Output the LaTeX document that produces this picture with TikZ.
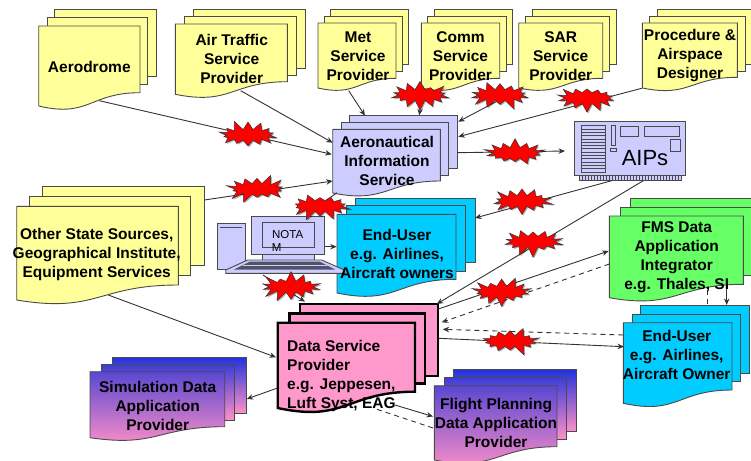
\documentclass[tikz,border=0pt]{standalone}
\usepackage{fontspec}
\setmainfont{Liberation Sans}
\usetikzlibrary{arrows.meta,shapes.symbols,shadows}
\definecolor{edge}{HTML}{4A4A4A}
\definecolor{yel}{HTML}{FFFF99}
\definecolor{lav}{HTML}{CCCCFF}
\definecolor{cya}{HTML}{00CCFF}
\definecolor{gre}{HTML}{66FF66}
\definecolor{pnk}{HTML}{FF99CC}
\definecolor{gradend}{HTML}{FF90C8}
\definecolor{gradA}{HTML}{2233DD}
\definecolor{gradB}{HTML}{3C3DD8}
\definecolor{gradC}{HTML}{5A48D0}
\definecolor{link}{HTML}{333333}
\tikzset{
  ypg/.style={draw=edge,line width=.9pt,fill=yel},
  lpg/.style={draw=edge,line width=.9pt,fill=lav},
  cpg/.style={draw=edge,line width=.9pt,fill=cya},
  gpg/.style={draw=edge,line width=.9pt,fill=gre},
  ppg/.style={draw=black,line width=2.4pt,fill=pnk,miter limit=4},
  spgA/.style={draw=edge,line width=.9pt,top color=gradA,bottom color=gradend},
  spgB/.style={draw=edge,line width=.9pt,top color=gradB,bottom color=gradend},
  spgC/.style={draw=edge,line width=.9pt,top color=gradC,bottom color=gradend},
  arrow link/.style={draw=link,line width=.9pt,-{Stealth[length=6.5pt,width=5.5pt]}},
  plain link/.style={draw=link,line width=.9pt},
  dash link/.style={draw=link,line width=.9pt,dash pattern=on 5pt off 4pt,-{Stealth[length=6.5pt,width=5.5pt]}},
  label/.style={font=\fontsize{15.5}{19}\bfseries\selectfont,align=center,inner sep=0pt,text=black},
  burst/.style={starburst,starburst points=14,starburst point height=10pt,draw=black!80,line width=.5pt,fill=red,
    minimum width=64pt,minimum height=31pt,inner sep=0pt,
    drop shadow={shadow xshift=1.2pt,shadow yshift=-1.2pt,fill=black,opacity=.3}},
}
\newcommand\docfront[6]{%
  \pgfmathsetmacro\xmid{(#2+#3)/2}%
  \pgfmathsetmacro\yctl{#5+1.9*(#6-#5)}%
  \draw[#1] (#2,#4) -- (#3,#4) -- (#3,#5) .. controls (\xmid,#5) and (\xmid,\yctl) .. (#2,#6) -- cycle;}
\begin{document}
\begin{tikzpicture}[x=1pt,y=-1pt]
\useasboundingbox (0,0) rectangle (751,460);
% --- document stacks
\draw[ypg] (54.7,9) rectangle (156,76);
\draw[ypg] (47,17.3) rectangle (147.3,84);
\docfront{ypg}{38.7}{140}{26}{92.7}{106}
\draw[ypg] (193,9) rectangle (305,68.3);
\draw[ypg] (184.3,16) rectangle (296,75.3);
\docfront{ypg}{175.3}{287.3}{24}{81.7}{94.3}
\draw[ypg] (330.3,9) rectangle (408.7,64);
\draw[ypg] (324.3,16) rectangle (402.3,71);
\docfront{ypg}{318}{396}{23}{78.3}{88}
\draw[ypg] (434,9) rectangle (512.3,64);
\draw[ypg] (427.7,16) rectangle (506,71);
\docfront{ypg}{421.3}{499.7}{23}{78.3}{88}
\draw[ypg] (532,9) rectangle (616.7,64);
\draw[ypg] (525.3,16) rectangle (609.7,71);
\docfront{ypg}{518.7}{602.7}{23}{78.3}{88}
\draw[ypg] (657,9) rectangle (760,64);
\draw[ypg] (649.7,16) rectangle (745,71);
\docfront{ypg}{642.3}{737.3}{23}{77.3}{88}
\draw[lpg] (349.3,115.7) rectangle (457.3,168.3);
\draw[lpg] (341.3,122.3) rectangle (448.3,175);
\docfront{lpg}{332.7}{440.3}{129.3}{181}{193}
\draw[ypg] (42.3,186.3) rectangle (204.3,265);
\draw[ypg] (29.7,196.3) rectangle (190.7,275.7);
\docfront{ypg}{16.7}{178.3}{206.3}{285}{300}
\draw[cpg] (355.7,198.3) rectangle (475,262.7);
\draw[cpg] (346.7,205.7) rectangle (465,271.7);
\docfront{cpg}{337}{456}{214.3}{279.3}{293}
\draw[gpg] (630.3,198.3) rectangle (760,266);
\draw[gpg] (620,207.3) rectangle (755,275.7);
\docfront{gpg}{609.3}{743.3}{216}{284.3}{297.7}
\draw[cpg] (640.7,305.7) rectangle (749.7,373);
\draw[cpg] (632.3,314) rectangle (740.7,381.7);
\docfront{cpg}{623.3}{732}{322.7}{390}{403.3}
\draw[ppg] (300,304) rectangle (437.7,375.7);
\draw[ppg] (289.3,313.3) rectangle (425,383.3);
\docfront{ppg}{277.7}{415}{322.7}{391.7}{408}
\draw[spgA] (112,357.3) rectangle (246,413.3);
\draw[spgB] (101,364.7) rectangle (234.7,420);
\docfront{spgC}{90}{224.7}{371.7}{426.7}{437.7}
\draw[spgA] (453.7,369.7) rectangle (576.7,431.7);
\draw[spgB] (444,377.3) rectangle (566.7,439.3);
\docfront{spgC}{434.3}{557}{385.7}{446.7}{460}
% --- AIPs circuit board
\draw[lpg] (574,121.7) rectangle (685.7,175.7);
\draw[lpg] (579.3,175.7) rectangle (681,180.7);
\foreach \gx in {582,585,...,680} \draw[edge,line width=.5pt] (\gx,175.7) -- (\gx,180.7);
\draw[lpg,line width=.7pt] (581.3,125.7) rectangle (605,172.3);
\foreach \gy in {129,132.3,...,171} \draw[edge,line width=.7pt] (581.3,\gy) -- (605,\gy);
\draw[lpg,line width=.7pt] (611.7,125.7) rectangle (615.7,145);
\draw[lpg,line width=.7pt] (610.7,148.3) rectangle (616.7,151.7);
\draw[lpg,line width=.7pt] (620.3,126) rectangle (638.7,136.7);
\draw[lpg,line width=.7pt] (644.3,126) rectangle (679,136.7);
\draw[lpg,line width=.7pt] (670,139.3) rectangle (680,151.7);
% --- NOTAM computer
\draw[lpg] (217,223) rectangle (245,269.3);
\draw[edge,line width=1.2pt] (220.3,227.3) -- (241.7,227.3);
\draw[lpg] (251.7,216) rectangle (324.3,254.3);
\draw[lpg] (262.3,222.3) rectangle (314.3,247.7);
\draw[lpg] (262.3,254.3) rectangle (314.3,260);
\draw[lpg] (247.7,260) -- (321.7,260) -- (344.3,270) -- (344.3,273.3) -- (225.7,273.3) -- (225.7,270) -- cycle;
\fill[black!60!lav] (250,261.5) -- (319.5,261.5) -- (335,269.5) -- (234,269.5) -- cycle;
\draw[lav,line width=.6pt] (243,265.5) -- (327,265.5);
% --- anchor points of the connectors
\coordinate (aeroOut) at (99.3,100.7);   \coordinate (aisA) at (331.7,154.3);
\coordinate (atsOut) at (240.7,90.7);    \coordinate (aisB) at (332.7,142.7);
\coordinate (metOut) at (348.7,90.7);    \coordinate (aisC) at (365,115.7);
\coordinate (commOut) at (423,86);       \coordinate (aisD) at (419.3,115.3);
\coordinate (sarOut) at (522,88);        \coordinate (aisE) at (458.3,121.7);
\coordinate (procOut) at (641.7,88.3);   \coordinate (aisF) at (458.3,136.7);
\coordinate (aisOut) at (457.3,152.7);   \coordinate (aipIn) at (565,151);
\coordinate (aipOutA) at (611.7,180.7);  \coordinate (euA) at (475,218);
\coordinate (aipOutB) at (643.3,180.7);  \coordinate (dsA) at (436.7,304);
\coordinate (othOutA) at (204.3,200);    \coordinate (aisG) at (332.7,181);
\coordinate (othOutB) at (108.3,295);    \coordinate (dsB) at (276,357.3);
\coordinate (aisOutB) at (337,192.7);    \coordinate (pcA) at (318,206);
\coordinate (pcOutA) at (325,246.7);     \coordinate (euB) at (336.7,246.7);
\coordinate (pcOutB) at (263,275);       \coordinate (dsC) at (305,301.7);
\coordinate (dsOutA) at (438.3,309);     \coordinate (fmsIn) at (608.7,251);
\coordinate (fmsOutA) at (609.3,264);    \coordinate (dsD) at (441.7,322.3);
\coordinate (dsOutB) at (438.3,338.3);   \coordinate (eutA) at (624,346.7);
\coordinate (eutOut) at (623.3,335);     \coordinate (dsE) at (442.7,329.3);
\coordinate (fmsOutB) at (726.7,284.3);  \coordinate (eutB) at (726.7,305);
\coordinate (fmsOutC) at (707.3,290);    \coordinate (eutC) at (707.3,305.7);
\coordinate (dsOutC) at (276.7,388.3);   \coordinate (simIn) at (246.7,399);
\coordinate (dsOutD) at (395,405);       \coordinate (fltIn) at (433,416.5);
\coordinate (fltOut) at (433,428);       \coordinate (dsF) at (373,408);
% --- connectors
\draw[arrow link] (aeroOut) -- (aisA);
\draw[arrow link] (atsOut) -- (aisB);
\draw[arrow link] (metOut) -- (aisC);
\draw[arrow link] (commOut) -- (aisD);
\draw[arrow link] (sarOut) -- (aisE);
\draw[arrow link] (procOut) -- (aisF);
\draw[arrow link] (aisOut) -- (aipIn);
\draw[arrow link] (aipOutA) -- (euA);
\draw[arrow link] (aipOutB) -- (dsA);
\draw[arrow link] (othOutA) -- (aisG);
\draw[arrow link] (othOutB) -- (dsB);
\draw[plain link] (aisOutB) -- (pcA);
\draw[arrow link] (pcOutA) -- (euB);
\draw[arrow link] (pcOutB) -- (dsC);
\draw[arrow link] (dsOutA) -- (fmsIn);
\draw[dash link] (fmsOutA) -- (dsD);
\draw[arrow link] (dsOutB) -- (eutA);
\draw[dash link] (eutOut) -- (dsE);
\draw[arrow link] (fmsOutB) -- (eutB);
\draw[plain link,dash pattern=on 5pt off 4pt] (fmsOutC) -- (eutC);
\draw[arrow link] (dsOutC) -- (simIn);
\draw[arrow link] (dsOutD) -- (fltIn);
\draw[plain link,dash pattern=on 5pt off 4pt] (fltOut) -- (dsF);
% --- red bursts
\node[burst,random starburst=11] (bAero) at (248,135) {};
\node[burst,random starburst=12] (bOther) at (257,189) {};
\node[burst,random starburst=13] (bPc) at (320,206) {};
\node[burst,random starburst=14] (bComm) at (420,95) {};
\node[burst,random starburst=15] (bSar) at (500,95) {};
\node[burst,random starburst=16] (bProc) at (587,98) {};
\node[burst,random starburst=17] (bAip) at (515,153) {};
\node[burst,random starburst=18] (bEu) at (522,201) {};
\node[burst,random starburst=19] (bDs) at (533,241.7) {};
\node[burst,random starburst=20] (bLap) at (291,286.7) {};
\node[burst,random starburst=21] (bFms) at (501.7,291.7) {};
\node[burst,random starburst=22] (bEut) at (510,341) {};
% --- texts
\node[label] (tAero) at (89.3,66.7) {Aerodrome};
\node[label] (tAts) at (231.7,59.3) {Air Traffic\\Service\\Provider};
\node[label] (tMet) at (358,56) {Met\\Service\\Provider};
\node[label] (tComm) at (460.5,56) {Comm\\Service\\Provider};
\node[label] (tSar) at (560.7,56) {SAR\\Service\\Provider};
\node[label] (tProc) at (690,56) {Procedure \&\\Airspace\\Designer};
\node[label] (tAis) at (387,160.5) {Aeronautical\\Information\\Service};
\node[label] (tOther) at (96.7,254) {Other State Sources,\\Geographical Institute,\\Equipment Services};
\node[label] (tEu) at (397,254) {End-User\\e.g. Airlines,\\Aircraft owners};
\node[label] (tFms) at (676.7,257.5) {FMS Data\\Application\\Integrator\\e.g. Thales, SI};
\node[label] (tEut) at (676.7,354.5) {End-User\\e.g. Airlines,\\Aircraft Owner};
\node[label,anchor=west,align=left] (tDs) at (287,375.5) {Data Service\\Provider\\e.g. Jeppesen,\\Luft Syst, EAG};
\node[label] (tSim) at (157.7,405.5) {Simulation Data\\Application\\Provider};
\node[label] (tFlt) at (496,423) {Flight Planning\\Data Application\\Provider};
\node[font=\fontsize{22}{26}\selectfont,inner sep=0pt] (tAip) at (645,158.5) {AIPs};
\node[font=\fontsize{11.5}{13}\selectfont,inner sep=0pt] (tNota) at (287.7,235) {NOTA};
\node[font=\fontsize{11.5}{13}\selectfont,inner sep=0pt] (tNotaM) at (276.7,248) {M};
\end{tikzpicture}
\end{document}
